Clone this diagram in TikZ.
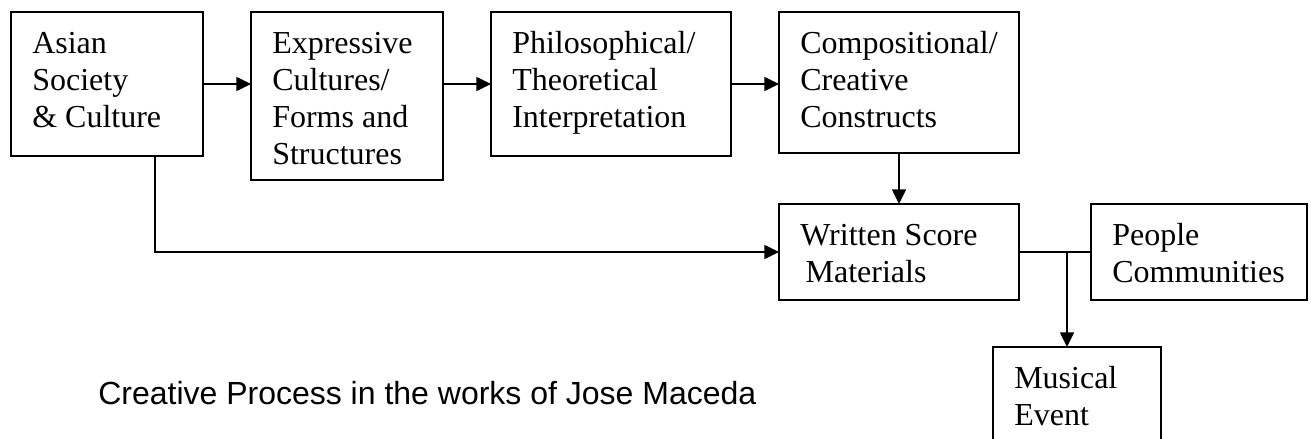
\documentclass[tikz,border=0pt]{standalone}
\usepackage{fontspec}
\setmainfont{Liberation Serif}
\newfontfamily\capfont{Liberation Sans}
\usetikzlibrary{arrows.meta,calc}
\begin{document}
\begin{tikzpicture}[x=0.75pt,y=-0.75pt,
  box/.style={draw, line width=1.1pt, inner sep=0pt, outer sep=0pt, anchor=north west},
  txt/.style={font=\fontsize{24}{27.75}\selectfont, align=left, inner sep=0pt, anchor=north west, xshift=15.75pt, yshift=-10.75pt},
  conn/.style={line width=1.1pt},
  arr/.style={conn, -{Triangle[length=11pt,width=10.5pt]}}]
\useasboundingbox (0,0) rectangle (1311,439);
\node[box, minimum width=144pt, minimum height=108pt,
  label={[txt]north west:{\rule{0pt}{20pt}Asian\\Society\\\& Culture}}] (asian) at (11,12) {};
\node[box, minimum width=144pt, minimum height=126pt,
  label={[txt]north west:{\rule{0pt}{20pt}Expressive\\Cultures/\\Forms and\\Structures}}] (expressive) at (251,12) {};
\node[box, minimum width=180pt, minimum height=108pt,
  label={[txt]north west:{\rule{0pt}{20pt}Philosophical/\\Theoretical\\Interpretation}}] (philo) at (491,12) {};
\node[box, minimum width=180pt, minimum height=105.75pt,
  label={[txt]north west:{\rule{0pt}{20pt}Compositional/\\Creative\\Constructs}}] (comp) at (779,12) {};
\node[box, minimum width=180pt, minimum height=72pt,
  label={[txt]north west:{\rule{0pt}{20pt}Written Score\\\hspace*{4pt}Materials}}] (written) at (779,204) {};
\node[box, minimum width=162pt, minimum height=72pt,
  label={[txt]north west:{\rule{0pt}{20pt}People\\Communities}}] (people) at (1091,204) {};
\node[box, minimum width=126pt, minimum height=90pt,
  label={[txt]north west:{\rule{0pt}{20pt}Musical\\Event}}] (musical) at (993,347) {};
\node[font=\capfont\fontsize{24}{28}\selectfont, anchor=base west, inner sep=0pt] (cap) at (98,404) {Creative Process in the works of Jose Maceda};
\draw[arr] (asian.east) -- (asian.east -| expressive.west);
\draw[arr] (expressive.east |- philo.west) -- (philo.west);
\draw[arr] (philo.east) -- (philo.east -| comp.west);
\draw[arr] (comp.south) -- (written.north);
\coordinate (a1) at ([xshift=108pt]asian.south west);
\draw[arr] (a1) -- (a1 |- written.west) -- (written.west);
\draw[conn] (written.east) -- (people.west);
\coordinate (j) at ([xshift=36pt]written.east);
\draw[arr] (j) -- (j |- musical.north);
\end{tikzpicture}
\end{document}
